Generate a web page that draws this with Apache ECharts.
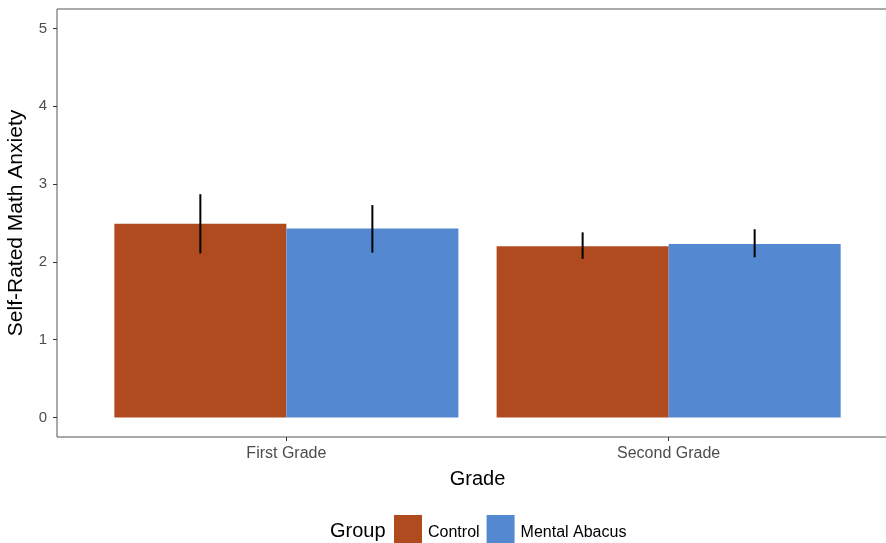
<!DOCTYPE html>
<html>
<head>
<meta charset="utf-8">
<style>
  html, body { margin: 0; padding: 0; background: #fff; }
  #chart { width: 886px; height: 543px; }
</style>
<script src="https://cdn.jsdelivr.net/npm/echarts@6/dist/echarts.min.js"></script>
</head>
<body>
<div id="chart"></div>
<script>
// Grade levels and group means with error-bar bounds
const grades = ['First Grade', 'Second Grade'];
const groups = ['Control', 'Mental Abacus'];
const controlMean = [2.49, 2.20];
const abacusMean = [2.43, 2.23];
const controlLow = [2.11, 2.04];
const controlHigh = [2.87, 2.38];
const abacusLow = [2.12, 2.06];
const abacusHigh = [2.73, 2.42];
const yTicks = [0, 1, 2, 3, 4, 5];

const colors = { Control: '#B04B20', 'Mental Abacus': '#5489D1' };
const FONT = '"Liberation Sans", Arial, Helvetica, sans-serif';
const HALF = 0.225; // half of one dodged bar, in category units

// bar rows: [category position, mean, offset]
function barRows(means, offset) {
  return means.map((m, i) => [i + 1, m, offset]);
}
function errRows(low, high, offset) {
  return low.map((l, i) => [i + 1, l, high[i], offset]);
}

function renderBar(params, api) {
  const x = api.value(0) + api.value(2);
  const p0 = api.coord([x - HALF, api.value(1)]);
  const p1 = api.coord([x + HALF, 0]);
  return {
    type: 'rect',
    shape: { x: p0[0], y: p0[1], width: p1[0] - p0[0], height: p1[1] - p0[1] },
    style: { fill: api.visual('color') }
  };
}

function renderErr(params, api) {
  const x = api.value(0) + api.value(3);
  const lo = api.coord([x, api.value(1)]);
  const hi = api.coord([x, api.value(2)]);
  return {
    type: 'line',
    shape: { x1: lo[0], y1: lo[1], x2: hi[0], y2: hi[1] },
    style: { stroke: '#000', lineWidth: 2 }
  };
}

const chart = echarts.init(document.getElementById('chart'), null, { renderer: 'canvas' });

chart.setOption({
  animation: false,
  backgroundColor: '#fff',
  textStyle: { fontFamily: FONT },
  grid: {
    left: 57, top: 9, width: 841, height: 428,
    containLabel: false, outerBoundsMode: 'none',
    show: true, borderColor: '#555', borderWidth: 1, backgroundColor: 'transparent'
  },
  legend: {
    left: 394, top: 515, padding: 0,
    itemWidth: 28, itemHeight: 28, itemGap: 7,
    icon: 'rect',
    data: groups,
    formatter: name => '{t|' + name + '}',
    textStyle: {
      fontFamily: FONT, fontSize: 16, color: '#000',
      rich: { t: { fontFamily: FONT, fontSize: 16, color: '#000', padding: [8, 0, 0, 1] } }
    }
  },
  graphic: [{
    type: 'text',
    left: 330, top: 521,
    style: { text: 'Group', font: '20px ' + FONT, fill: '#000' }
  }],
  xAxis: {
    type: 'value', min: 0.4, max: 2.6,
    name: 'Grade', nameLocation: 'middle', nameGap: 32,
    nameTextStyle: { fontFamily: FONT, fontSize: 20, color: '#000' },
    axisLine: { show: false, onZero: false },
    splitLine: { show: false },
    axisTick: { show: true, length: 4, customValues: [1, 2], lineStyle: { color: '#333', width: 1 } },
    axisLabel: {
      customValues: [1, 2], margin: 9,
      formatter: v => grades[Math.round(v) - 1] || '',
      fontFamily: FONT, fontSize: 16, color: '#4d4d4d'
    }
  },
  yAxis: {
    type: 'value', min: -0.25, max: 5.25,
    name: 'Self-Rated Math Anxiety', nameLocation: 'middle', nameGap: 30,
    nameTextStyle: { fontFamily: FONT, fontSize: 21, color: '#000' },
    axisLine: { show: false, onZero: false },
    splitLine: { show: false },
    axisTick: { show: true, length: 4, customValues: yTicks, lineStyle: { color: '#333', width: 1 } },
    axisLabel: {
      customValues: yTicks, margin: 10,
      fontFamily: FONT, fontSize: 15, color: '#4d4d4d'
    }
  },
  series: [
    {
      name: 'Control', type: 'custom', renderItem: renderBar,
      itemStyle: { color: colors.Control },
      encode: { x: 0, y: 1 },
      data: barRows(controlMean, -HALF), z: 2
    },
    {
      name: 'Mental Abacus', type: 'custom', renderItem: renderBar,
      itemStyle: { color: colors['Mental Abacus'] },
      encode: { x: 0, y: 1 },
      data: barRows(abacusMean, HALF), z: 2
    },
    {
      name: 'errControl', type: 'custom', renderItem: renderErr,
      encode: { x: 0, y: [1, 2] },
      data: errRows(controlLow, controlHigh, -HALF), z: 3
    },
    {
      name: 'errAbacus', type: 'custom', renderItem: renderErr,
      encode: { x: 0, y: [1, 2] },
      data: errRows(abacusLow, abacusHigh, HALF), z: 3
    }
  ]
});
</script>
</body>
</html>
